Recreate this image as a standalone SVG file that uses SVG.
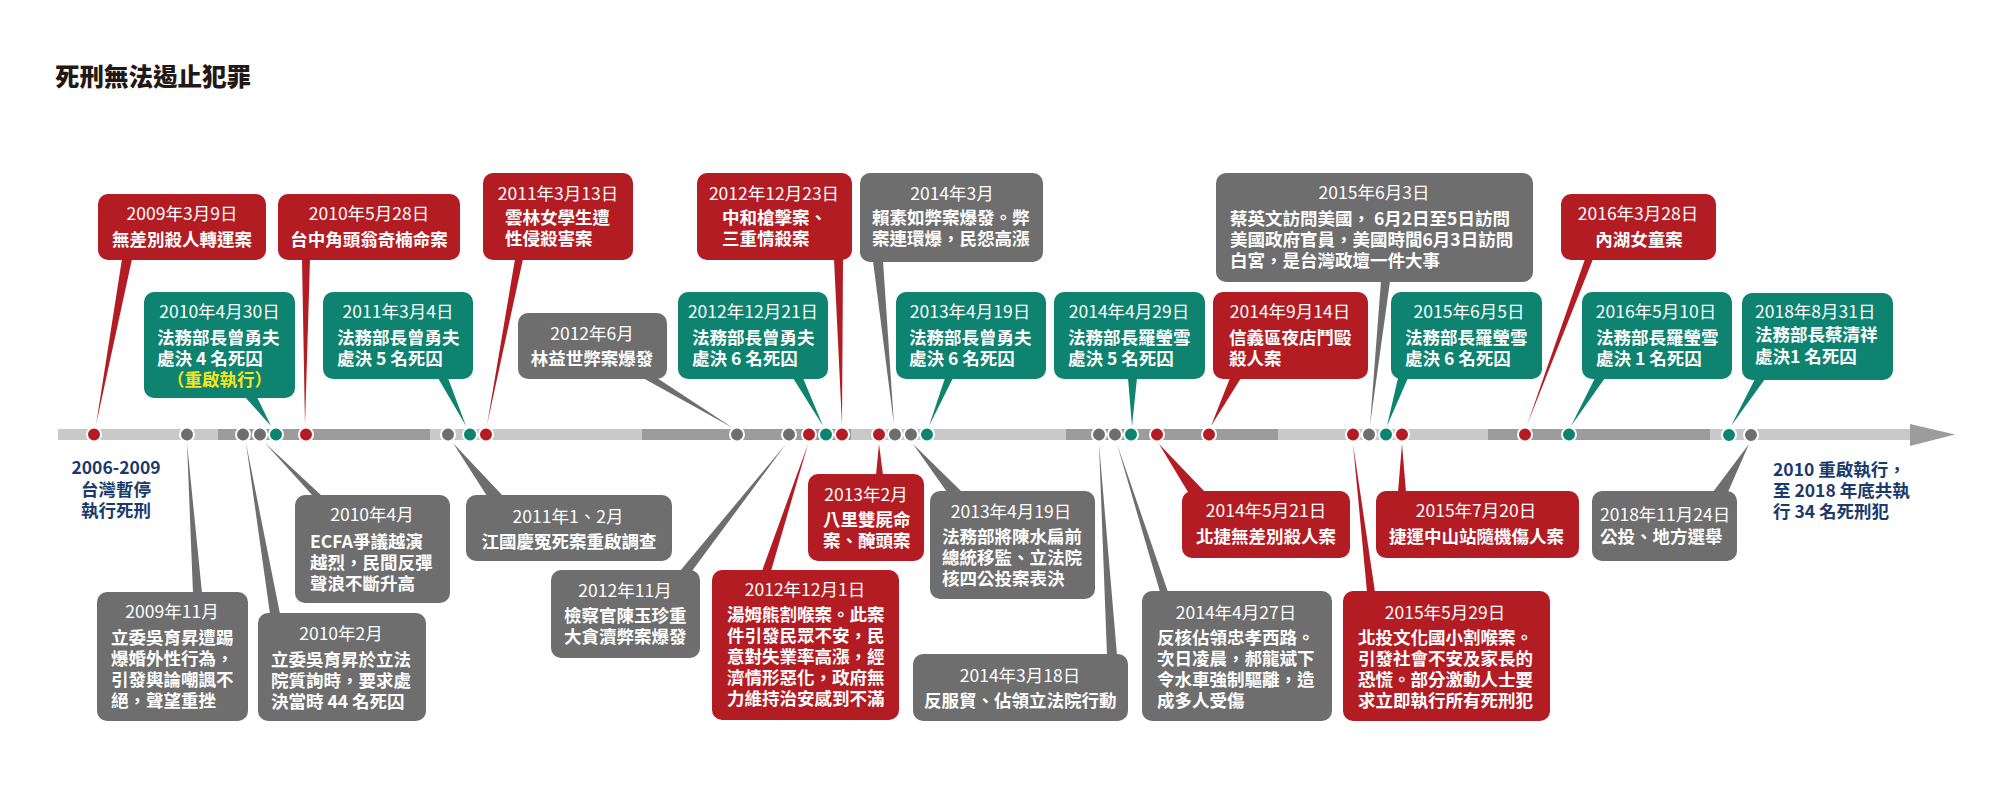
<svg xmlns="http://www.w3.org/2000/svg" width="2000" height="800" viewBox="0 0 2000 800">
<style>
text{font-family:"Noto Sans CJK TC","Noto Sans CJK SC",sans-serif;font-size:17.5px;fill:#fff}
.d{font-weight:400}
.b{font-weight:700}
.m{text-anchor:middle}
.red{fill:#b41c24}
.teal{fill:#0d8370}
.gray{fill:#6e6e6e}
.lt{fill:#c8c9c8}
.dk{fill:#9c9c9c}
.dot{stroke:#fff;stroke-width:2}
.navy{fill:#1b3a6c;font-weight:700}
.yel{fill:#f5e51b}
</style>
<rect width="2000" height="800" fill="#fff"/>
<text x="55" y="86" style="font-size:24.5px;font-weight:900;fill:#231815">死刑無法遏止犯罪</text>

<g id="timeline">
<rect class="lt" x="58" y="429" width="160" height="11"/>
<rect class="dk" x="218" y="429" width="212" height="11"/>
<rect class="lt" x="430" y="429" width="212" height="11"/>
<rect class="dk" x="642" y="429" width="209" height="11"/>
<rect class="lt" x="851" y="429" width="215" height="11"/>
<rect class="dk" x="1066" y="429" width="212" height="11"/>
<rect class="lt" x="1278" y="429" width="210" height="11"/>
<rect class="dk" x="1488" y="429" width="222" height="11"/>
<rect class="lt" x="1710" y="429" width="201" height="11"/>
<polygon class="dk" points="1910,424 1955,434.5 1910,446"/>
</g>

<g id="connectors">
<polygon class="red" points="122,259 132,259 96,425"/>
<polygon class="red" points="302,259 310,259 305,425"/>
<polygon class="red" points="515,259 523,259 487,425"/>
<polygon class="red" points="834,259 843,259 842,425"/>
<polygon class="gray" points="873,261 883,261 894,425"/>
<polygon class="gray" points="1381,281 1390,281 1370,425"/>
<polygon class="red" points="1585,259 1593,259 1527,425"/>
<polygon class="teal" points="245,397 257,397 271,426"/>
<polygon class="teal" points="438,378 448,378 466,426"/>
<polygon class="gray" points="643,378 657,378 733,428"/>
<polygon class="teal" points="793,378 803,378 823,426"/>
<polygon class="teal" points="945,378 953,378 929,426"/>
<polygon class="teal" points="1128,378 1137,378 1132,426"/>
<polygon class="red" points="1230,378 1241,378 1211,426"/>
<polygon class="teal" points="1398,378 1408,378 1387,426"/>
<polygon class="teal" points="1595,378 1605,378 1571,426"/>
<polygon class="teal" points="1755,379 1765,379 1731,426"/>
<polygon class="gray" points="187,443 193,593 202,593"/>
<polygon class="gray" points="246,443 270,614 280,614"/>
<polygon class="gray" points="265,443 313,496 322,496"/>
<polygon class="gray" points="453,443 487,496 503,496"/>
<polygon class="gray" points="786,444 680,571 692,571"/>
<polygon class="red" points="808,444 762,571 771,571"/>
<polygon class="red" points="879,444 876,475 883,475"/>
<polygon class="gray" points="913,444 947,492 962,492"/>
<polygon class="gray" points="1099,444 1107,655 1117,655"/>
<polygon class="gray" points="1117,444 1160,592 1168,592"/>
<polygon class="red" points="1159,444 1188,492 1205,492"/>
<polygon class="red" points="1353,444 1367,592 1375,592"/>
<polygon class="red" points="1402,444 1398,492 1406,492"/>
<polygon class="gray" points="1749,444 1713,492 1728,492"/>
</g>

<g id="dots">
<circle class="dot red" cx="94" cy="434.5" r="7"/>
<circle class="dot gray" cx="187" cy="434.5" r="7"/>
<circle class="dot gray" cx="243" cy="434.5" r="7"/>
<circle class="dot gray" cx="260" cy="434.5" r="7"/>
<circle class="dot teal" cx="276" cy="434.5" r="7"/>
<circle class="dot red" cx="306" cy="434.5" r="7"/>
<circle class="dot gray" cx="448" cy="434.5" r="7"/>
<circle class="dot teal" cx="470" cy="434.5" r="7"/>
<circle class="dot red" cx="486" cy="434.5" r="7"/>
<circle class="dot gray" cx="737" cy="434.5" r="7"/>
<circle class="dot gray" cx="789" cy="434.5" r="7"/>
<circle class="dot red" cx="809" cy="434.5" r="7"/>
<circle class="dot teal" cx="826" cy="434.5" r="7"/>
<circle class="dot red" cx="842" cy="434.5" r="7"/>
<circle class="dot red" cx="879" cy="434.5" r="7"/>
<circle class="dot gray" cx="895" cy="434.5" r="7"/>
<circle class="dot gray" cx="911" cy="434.5" r="7"/>
<circle class="dot teal" cx="927" cy="434.5" r="7"/>
<circle class="dot gray" cx="1099" cy="434.5" r="7"/>
<circle class="dot gray" cx="1115" cy="434.5" r="7"/>
<circle class="dot teal" cx="1131" cy="434.5" r="7"/>
<circle class="dot red" cx="1157" cy="434.5" r="7"/>
<circle class="dot red" cx="1209" cy="434.5" r="7"/>
<circle class="dot red" cx="1353" cy="434.5" r="7"/>
<circle class="dot gray" cx="1369" cy="434.5" r="7"/>
<circle class="dot teal" cx="1386" cy="434.5" r="7"/>
<circle class="dot red" cx="1402" cy="434.5" r="7"/>
<circle class="dot red" cx="1525" cy="434.5" r="7"/>
<circle class="dot teal" cx="1569" cy="434.5" r="7"/>
<circle class="dot teal" cx="1729" cy="435" r="7"/>
<circle class="dot gray" cx="1751" cy="435" r="7"/>
</g>

<g id="note-left">
<text class="navy m"><tspan x="116" y="474">2006-2009</tspan><tspan x="116" y="495.5">台灣暫停</tspan><tspan x="116" y="516.5">執行死刑</tspan></text>
</g>
<g id="note-right">
<text class="navy"><tspan x="1773" y="475.5">2010 重啟執行，</tspan><tspan x="1773" y="496.5">至 2018 年底共執</tspan><tspan x="1773" y="517.5">行 34 名死刑犯</tspan></text>
</g>

<g id="n1"><rect class="red" x="98" y="194" width="168" height="66" rx="10"/>
<text><tspan class="d m" x="182" y="219.5">2009年3月9日</tspan><tspan class="b m" x="182" y="245.5">無差別殺人轉運案</tspan></text></g>
<g id="n2"><rect class="red" x="278" y="194" width="182" height="66" rx="10"/>
<text><tspan class="d m" x="369" y="219.5">2010年5月28日</tspan><tspan class="b m" x="369" y="245.5">台中角頭翁奇楠命案</tspan></text></g>
<g id="n3"><rect class="red" x="483" y="173" width="150" height="87" rx="10"/>
<text><tspan class="d m" x="558" y="199.5">2011年3月13日</tspan><tspan class="b" x="505" y="224">雲林女學生遭</tspan><tspan class="b" x="505" y="245">性侵殺害案</tspan></text></g>
<g id="n4"><rect class="red" x="697" y="173" width="155" height="87" rx="10"/>
<text><tspan class="d m" x="774" y="199.5">2012年12月23日</tspan><tspan class="b" x="722" y="224">中和槍擊案、</tspan><tspan class="b" x="722" y="245">三重情殺案</tspan></text></g>
<g id="n5"><rect class="gray" x="860" y="173" width="183" height="89" rx="10"/>
<text><tspan class="d m" x="952" y="199.5">2014年3月</tspan><tspan class="b" x="872" y="224">賴素如弊案爆發。弊</tspan><tspan class="b" x="872" y="245">案連環爆，民怨高漲</tspan></text></g>
<g id="n6"><rect class="gray" x="1216" y="173" width="317" height="109" rx="10"/>
<text><tspan class="d m" x="1374" y="199">2015年6月3日</tspan><tspan class="b" x="1230" y="225">蔡英文訪問美國， 6月2日至5日訪問</tspan><tspan class="b" x="1230" y="246">美國政府官員，美國時間6月3日訪問</tspan><tspan class="b" x="1230" y="267">白宮，是台灣政壇一件大事</tspan></text></g>
<g id="n7"><rect class="red" x="1561" y="194" width="155" height="66" rx="10"/>
<text><tspan class="d m" x="1638" y="219.5">2016年3月28日</tspan><tspan class="b m" x="1639" y="245.5">內湖女童案</tspan></text></g>

<g id="n8"><rect class="teal" x="144" y="292" width="151" height="106" rx="10"/>
<text><tspan class="d m" x="219.5" y="318">2010年4月30日</tspan><tspan class="b" x="157" y="343.5">法務部長曾勇夫</tspan><tspan class="b" x="157" y="364.5">處決 4 名死囚</tspan><tspan class="b m yel" x="219.5" y="385.5">（重啟執行）</tspan></text></g>
<g id="n9"><rect class="teal" x="323" y="292" width="150" height="87" rx="10"/>
<text><tspan class="d m" x="398" y="318">2011年3月4日</tspan><tspan class="b" x="337" y="343.5">法務部長曾勇夫</tspan><tspan class="b" x="337" y="364.5">處決 5 名死囚</tspan></text></g>
<g id="n10"><rect class="gray" x="518" y="313" width="149" height="66" rx="10"/>
<text><tspan class="d m" x="592" y="339.5">2012年6月</tspan><tspan class="b m" x="592" y="364.5">林益世弊案爆發</tspan></text></g>
<g id="n11"><rect class="teal" x="678" y="292" width="150" height="87" rx="10"/>
<text><tspan class="d m" x="753" y="318">2012年12月21日</tspan><tspan class="b" x="692" y="343.5">法務部長曾勇夫</tspan><tspan class="b" x="692" y="364.5">處決 6 名死囚</tspan></text></g>
<g id="n12"><rect class="teal" x="896" y="292" width="150" height="87" rx="10"/>
<text><tspan class="d m" x="970" y="318">2013年4月19日</tspan><tspan class="b" x="909" y="343.5">法務部長曾勇夫</tspan><tspan class="b" x="909" y="364.5">處決 6 名死囚</tspan></text></g>
<g id="n13"><rect class="teal" x="1054" y="292" width="151" height="87" rx="10"/>
<text><tspan class="d m" x="1129" y="318">2014年4月29日</tspan><tspan class="b" x="1068" y="343.5">法務部長羅瑩雪</tspan><tspan class="b" x="1068" y="364.5">處決 5 名死囚</tspan></text></g>
<g id="n14"><rect class="red" x="1213" y="292" width="155" height="87" rx="10"/>
<text><tspan class="d m" x="1290" y="318">2014年9月14日</tspan><tspan class="b" x="1229" y="343.5">信義區夜店鬥毆</tspan><tspan class="b" x="1229" y="364.5">殺人案</tspan></text></g>
<g id="n15"><rect class="teal" x="1391" y="292" width="151" height="87" rx="10"/>
<text><tspan class="d m" x="1469" y="318">2015年6月5日</tspan><tspan class="b" x="1405" y="343.5">法務部長羅瑩雪</tspan><tspan class="b" x="1405" y="364.5">處決 6 名死囚</tspan></text></g>
<g id="n16"><rect class="teal" x="1582" y="292" width="150" height="87" rx="10"/>
<text><tspan class="d m" x="1656" y="318">2016年5月10日</tspan><tspan class="b" x="1596" y="343.5">法務部長羅瑩雪</tspan><tspan class="b" x="1596" y="364.5">處決 1 名死囚</tspan></text></g>
<g id="n17"><rect class="teal" x="1742" y="293" width="151" height="87" rx="10"/>
<text><tspan class="d" x="1755" y="318">2018年8月31日</tspan><tspan class="b" x="1755" y="340.5">法務部長蔡清祥</tspan><tspan class="b" x="1755" y="363">處決1 名死囚</tspan></text></g>

<g id="n18"><rect class="gray" x="295" y="495" width="155" height="108" rx="10"/>
<text><tspan class="d m" x="372" y="521">2010年4月</tspan><tspan class="b" x="310" y="547.5">ECFA爭議越演</tspan><tspan class="b" x="310" y="568.5">越烈，民間反彈</tspan><tspan class="b" x="310" y="589.5">聲浪不斷升高</tspan></text></g>
<g id="n19"><rect class="gray" x="466" y="495" width="206" height="66" rx="10"/>
<text><tspan class="d m" x="568" y="522.5">2011年1、2月</tspan><tspan class="b m" x="569" y="547.5">江國慶冤死案重啟調查</tspan></text></g>
<g id="n20"><rect class="gray" x="551" y="570" width="149" height="88" rx="10"/>
<text><tspan class="d m" x="625" y="596.5">2012年11月</tspan><tspan class="b" x="564" y="621.5">檢察官陳玉珍重</tspan><tspan class="b" x="564" y="642.5">大貪瀆弊案爆發</tspan></text></g>
<g id="n21"><rect class="red" x="712" y="570" width="187" height="150" rx="10"/>
<text><tspan class="d m" x="805" y="595.5">2012年12月1日</tspan><tspan class="b" x="727" y="620.5">湯姆熊割喉案。此案</tspan><tspan class="b" x="727" y="641.5">件引發民眾不安，民</tspan><tspan class="b" x="727" y="662.5">意對失業率高漲，經</tspan><tspan class="b" x="727" y="683.5">濟情形惡化，政府無</tspan><tspan class="b" x="727" y="704.5">力維持治安感到不滿</tspan></text></g>
<g id="n22"><rect class="red" x="808" y="474" width="116" height="87" rx="10"/>
<text><tspan class="d m" x="866" y="500.5">2013年2月</tspan><tspan class="b" x="823" y="525.5">八里雙屍命</tspan><tspan class="b" x="823" y="546.5">案、醃頭案</tspan></text></g>
<g id="n23"><rect class="gray" x="930" y="491" width="165" height="108" rx="10"/>
<text><tspan class="d m" x="1011" y="518">2013年4月19日</tspan><tspan class="b" x="942" y="542.5">法務部將陳水扁前</tspan><tspan class="b" x="942" y="563.5">總統移監、立法院</tspan><tspan class="b" x="942" y="584.5">核四公投案表決</tspan></text></g>
<g id="n24"><rect class="gray" x="913" y="654" width="215" height="67" rx="10"/>
<text><tspan class="d m" x="1020" y="681.5">2014年3月18日</tspan><tspan class="b" x="924" y="706.5">反服貿、佔領立法院行動</tspan></text></g>
<g id="n25"><rect class="gray" x="1142" y="591" width="190" height="130" rx="10"/>
<text><tspan class="d m" x="1236" y="618.5">2014年4月27日</tspan><tspan class="b" x="1157" y="643.5">反核佔領忠孝西路。</tspan><tspan class="b" x="1157" y="664.5">次日凌晨，郝龍斌下</tspan><tspan class="b" x="1157" y="685.5">令水車強制驅離，造</tspan><tspan class="b" x="1157" y="706.5">成多人受傷</tspan></text></g>
<g id="n26"><rect class="red" x="1182" y="491" width="168" height="67" rx="10"/>
<text><tspan class="d m" x="1266" y="516.5">2014年5月21日</tspan><tspan class="b m" x="1266" y="542.5">北捷無差別殺人案</tspan></text></g>
<g id="n27"><rect class="red" x="1343" y="591" width="207" height="130" rx="10"/>
<text><tspan class="d m" x="1445" y="618.5">2015年5月29日</tspan><tspan class="b" x="1358" y="643.5">北投文化國小割喉案。</tspan><tspan class="b" x="1358" y="664.5">引發社會不安及家長的</tspan><tspan class="b" x="1358" y="685.5">恐慌。部分激動人士要</tspan><tspan class="b" x="1358" y="706.5">求立即執行所有死刑犯</tspan></text></g>
<g id="n28"><rect class="red" x="1376" y="491" width="203" height="67" rx="10"/>
<text><tspan class="d m" x="1476" y="516.5">2015年7月20日</tspan><tspan class="b" x="1389" y="542.5">捷運中山站隨機傷人案</tspan></text></g>
<g id="n29"><rect class="gray" x="1592" y="491" width="145" height="70" rx="10"/>
<text><tspan class="d" x="1600" y="520.5">2018年11月24日</tspan><tspan class="b" x="1600" y="542.5">公投、地方選舉</tspan></text></g>
<g id="n30"><rect class="gray" x="97" y="592" width="151" height="129" rx="10"/>
<text><tspan class="d m" x="172" y="618">2009年11月</tspan><tspan class="b" x="111" y="643.5">立委吳育昇遭踢</tspan><tspan class="b" x="111" y="664.5">爆婚外性行為，</tspan><tspan class="b" x="111" y="685.5">引發輿論嘲諷不</tspan><tspan class="b" x="111" y="706.5">絕，聲望重挫</tspan></text></g>
<g id="n31"><rect class="gray" x="258" y="613" width="168" height="108" rx="10"/>
<text><tspan class="d m" x="341" y="639.5">2010年2月</tspan><tspan class="b" x="271" y="666">立委吳育昇於立法</tspan><tspan class="b" x="271" y="687">院質詢時，要求處</tspan><tspan class="b" x="271" y="708">決當時 44 名死囚</tspan></text></g>
</svg>
